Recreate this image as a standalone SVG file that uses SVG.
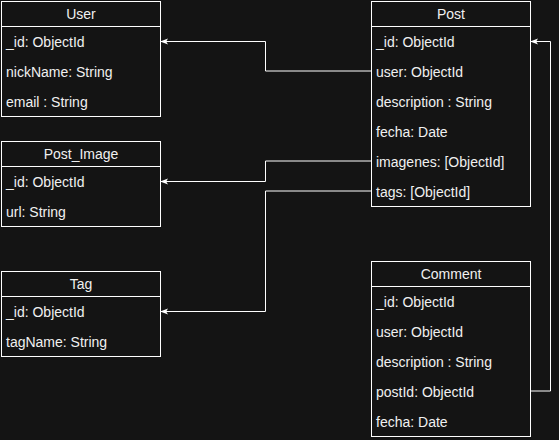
<svg xmlns="http://www.w3.org/2000/svg" width="559" height="440" viewBox="0 0 559 440">
<style>
.box{fill:#141414;stroke:#ffffff;stroke-width:1}
.ln{stroke:#ffffff;stroke-width:1;fill:none}
.t{font-family:"Liberation Sans",Arial,sans-serif;font-size:14px;fill:#f0f0f0}
.h{text-anchor:middle}
.c{stroke:#ffffff;stroke-width:1;fill:none;marker-end:url(#arr)}
</style>
<defs>
<marker id="arr" viewBox="0 0 10 10" refX="9" refY="5" markerWidth="8" markerHeight="8" markerUnits="userSpaceOnUse" orient="auto">
<path d="M0,1 L10,5 L0,9 L2.5,5 Z" fill="#ffffff"/>
</marker>
</defs>
<rect width="559" height="440" fill="#141414"/>
<g id="connectors">
<path class="c" d="M371,71 H265.5 V41.5 H161"/>
<path class="c" d="M371,161 H265.5 V181.5 H161"/>
<path class="c" d="M371,191 H265.5 V311.5 H161"/>
<path class="c" d="M530,391 H550.5 V41.5 H531"/>
</g>
<g id="User">
<rect class="box" x="1.5" y="1.5" width="159" height="115"/>
<line class="ln" x1="1.5" y1="26.5" x2="160.5" y2="26.5"/>
<text class="t h" x="81" y="19">User</text>
<text class="t" x="6" y="46.5">_id: ObjectId</text>
<text class="t" x="6" y="76.5">nickName: String</text>
<text class="t" x="6" y="106.5">email : String</text>
</g>
<g id="Post_Image">
<rect class="box" x="1.5" y="141.5" width="159" height="85"/>
<line class="ln" x1="1.5" y1="166.5" x2="160.5" y2="166.5"/>
<text class="t h" x="81" y="159">Post_Image</text>
<text class="t" x="6" y="186.5">_id: ObjectId</text>
<text class="t" x="6" y="216.5">url: String</text>
</g>
<g id="Tag">
<rect class="box" x="1.5" y="271.5" width="159" height="85"/>
<line class="ln" x1="1.5" y1="296.5" x2="160.5" y2="296.5"/>
<text class="t h" x="81" y="289">Tag</text>
<text class="t" x="6" y="316.5">_id: ObjectId</text>
<text class="t" x="6" y="346.5">tagName: String</text>
</g>
<g id="Post">
<rect class="box" x="371.5" y="1.5" width="159" height="205"/>
<line class="ln" x1="371.5" y1="26.5" x2="530.5" y2="26.5"/>
<text class="t h" x="451" y="19">Post</text>
<text class="t" x="376" y="46.5">_id: ObjectId</text>
<text class="t" x="376" y="76.5">user: ObjectId</text>
<text class="t" x="376" y="106.5">description : String</text>
<text class="t" x="376" y="136.5">fecha: Date</text>
<text class="t" x="376" y="166.5">imagenes: [ObjectId]</text>
<text class="t" x="376" y="196.5">tags: [ObjectId]</text>
</g>
<g id="Comment">
<rect class="box" x="371.5" y="261.5" width="159" height="175"/>
<line class="ln" x1="371.5" y1="286.5" x2="530.5" y2="286.5"/>
<text class="t h" x="451" y="279">Comment</text>
<text class="t" x="376" y="306.5">_id: ObjectId</text>
<text class="t" x="376" y="336.5">user: ObjectId</text>
<text class="t" x="376" y="366.5">description : String</text>
<text class="t" x="376" y="396.5">postId: ObjectId</text>
<text class="t" x="376" y="426.5">fecha: Date</text>
</g>
</svg>
